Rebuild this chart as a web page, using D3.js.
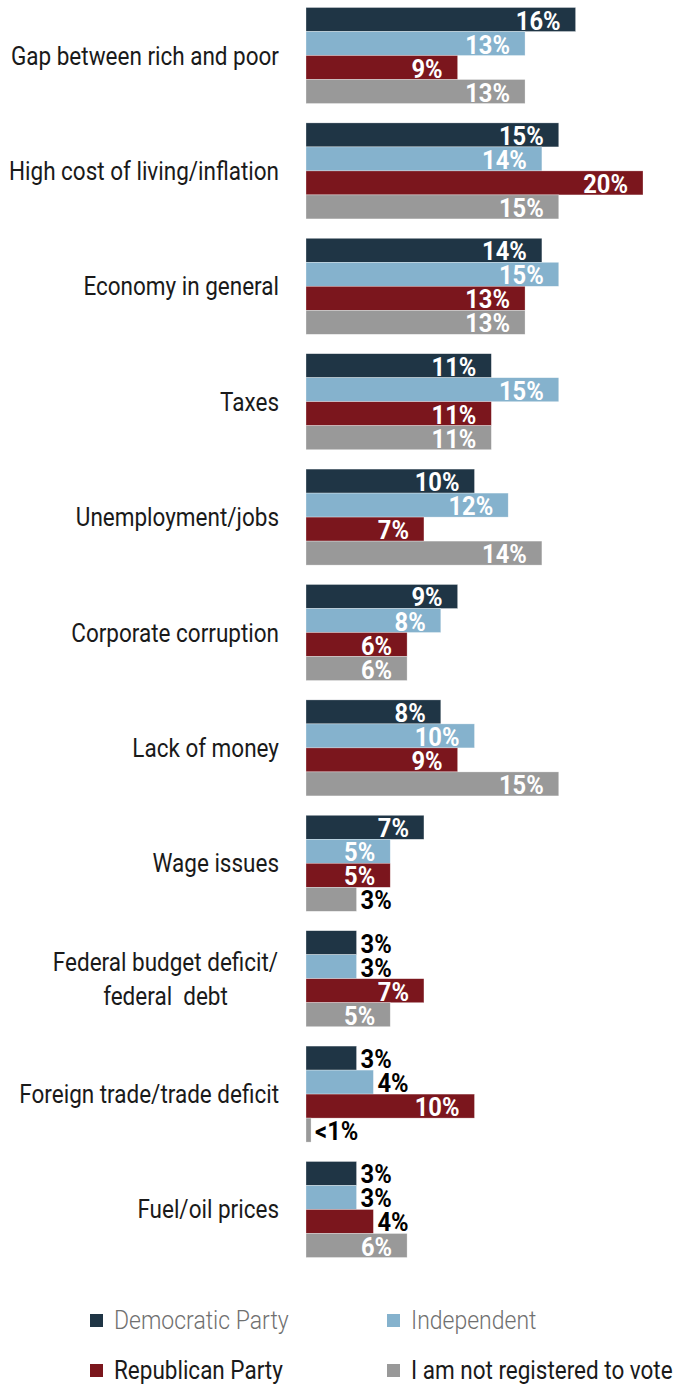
<!DOCTYPE html>
<html>
<head>
<meta charset="utf-8">
<script src="https://cdn.jsdelivr.net/npm/d3@7"></script>
<style>
  html, body { margin: 0; padding: 0; background: #ffffff; }
  svg { display: block; }
  text { font-family: Roboto, "Noto Sans", sans-serif; white-space: pre; }
</style>
</head>
<body>
<svg id="chart" width="682" height="1385"></svg>
<script>
// Top economic concerns by party affiliation (percent of respondents)
const categories = [
  ["Gap between rich and poor"],
  ["High cost of living/inflation"],
  ["Economy in general"],
  ["Taxes"],
  ["Unemployment/jobs"],
  ["Corporate corruption"],
  ["Lack of money"],
  ["Wage issues"],
  ["Federal budget deficit/", "federal  debt"],
  ["Foreign trade/trade deficit"],
  ["Fuel/oil prices"]
];
const seriesNames = ["Democratic Party", "Independent", "Republican Party", "I am not registered to vote"];
const seriesColors = ["#1f3545", "#85b2cd", "#7b161d", "#999999"];

const democratic    = [16, 15, 14, 11, 10, 9, 8, 7, 3, 3, 3];
const independent   = [13, 14, 15, 15, 12, 8, 10, 5, 3, 4, 3];
const republican    = [9, 20, 13, 11, 7, 6, 9, 5, 7, 10, 4];
const notRegistered = [13, 15, 13, 11, 14, 6, 15, 3, 5, 0.3, 6];
const valueLabels = [
  ["16%", "15%", "14%", "11%", "10%", "9%", "8%", "7%", "3%", "3%", "3%"],
  ["13%", "14%", "15%", "15%", "12%", "8%", "10%", "5%", "3%", "4%", "3%"],
  ["9%", "20%", "13%", "11%", "7%", "6%", "9%", "5%", "7%", "10%", "4%"],
  ["13%", "15%", "13%", "11%", "14%", "6%", "15%", "3%", "5%", "<1%", "6%"]
];
const seriesValues = [democratic, independent, republican, notRegistered];

const svg = d3.select("#chart");
const textSqueeze = 0.9;   // horizontal squeeze for a condensed look
const valueSqueeze = 0.95;

const x = d3.scaleLinear().domain([0, 20]).range([306, 643]);
const y0 = d3.scaleBand()
  .domain(d3.range(categories.length))
  .range([7.5, 1257.5])
  .paddingInner(0.168);
const y1 = d3.scaleBand()
  .domain(d3.range(seriesNames.length))
  .range([0, y0.bandwidth()]);

const groups = svg.append("g").selectAll("g.group")
  .data(categories.map((c, i) => i))
  .join("g")
  .attr("class", "group")
  .attr("transform", i => `translate(0,${y0(i)})`);

// bars
groups.each(function(ci) {
  const g = d3.select(this);
  const rows = seriesNames.map((s, si) => ({
    si, value: seriesValues[si][ci], label: valueLabels[si][ci]
  }));
  g.selectAll("rect")
    .data(rows)
    .join("rect")
    .attr("x", x(0))
    .attr("y", d => y1(d.si))
    .attr("width", d => x(d.value) - x(0))
    .attr("height", y1.bandwidth())
    .attr("fill", d => seriesColors[d.si])
    .attr("stroke", "#ffffff")
    .attr("stroke-opacity", 0.5)
    .attr("stroke-width", 0.6);

  // value labels: inside (white) for long bars, outside (black) for short ones
  g.selectAll("text.val")
    .data(rows)
    .join("text")
    .attr("class", "val")
    .attr("transform", d => {
      const inside = d.value >= 5;
      const tx = inside ? x(d.value) - 15 : x(d.value) + 4;
      const ty = y1(d.si) + y1.bandwidth() - 2;
      return `translate(${tx},${ty}) scale(${valueSqueeze},1)`;
    })
    .attr("text-anchor", d => d.value >= 5 ? "end" : "start")
    .attr("font-size", 25)
    .attr("font-weight", 700)
    .attr("fill", d => d.value >= 5 ? "#ffffff" : "#000000")
    .text(d => d.label);
});

// category labels
groups.each(function(ci) {
  const lines = categories[ci];
  const g = d3.select(this);
  const mid = y0.bandwidth() / 2;
  const lh = 34;
  if (lines.length === 1) {
    g.append("text")
      .attr("transform", `translate(279,${mid + 9}) scale(${textSqueeze},1)`)
      .attr("text-anchor", "end")
      .attr("font-size", 25)
      .attr("fill", "#1a1a1a")
      .text(lines[0]);
  } else {
    const cx = 165.5;
    lines.forEach((ln, k) => {
      g.append("text")
        .attr("transform", `translate(${cx},${mid + 9 + (k - (lines.length - 1) / 2) * lh}) scale(${textSqueeze},1)`)
        .attr("text-anchor", "middle")
        .attr("font-size", 25)
        .attr("fill", "#1a1a1a")
        .text(ln);
    });
  }
});

// legend
const legendPos = [
  { x: 90, y: 1320, color: "#707070", weight: 300 },
  { x: 387, y: 1320, color: "#707070", weight: 300 },
  { x: 90, y: 1370, color: "#1a1a1a", weight: 400 },
  { x: 387, y: 1370, color: "#1a1a1a", weight: 400 }
];
const legend = svg.append("g").selectAll("g")
  .data(seriesNames)
  .join("g")
  .attr("transform", (d, i) => `translate(${legendPos[i].x},${legendPos[i].y})`);
legend.append("rect")
  .attr("x", 0).attr("y", -6).attr("width", 13).attr("height", 13)
  .attr("fill", (d, i) => seriesColors[i]);
legend.append("text")
  .attr("transform", (d, i) => `translate(24,9) scale(${legendPos[i].weight === 300 ? 0.92 : textSqueeze},1)`)
  .attr("font-size", 25)
  .attr("font-weight", (d, i) => legendPos[i].weight)
  .attr("fill", (d, i) => legendPos[i].color)
  .text(d => d);
</script>
</body>
</html>
